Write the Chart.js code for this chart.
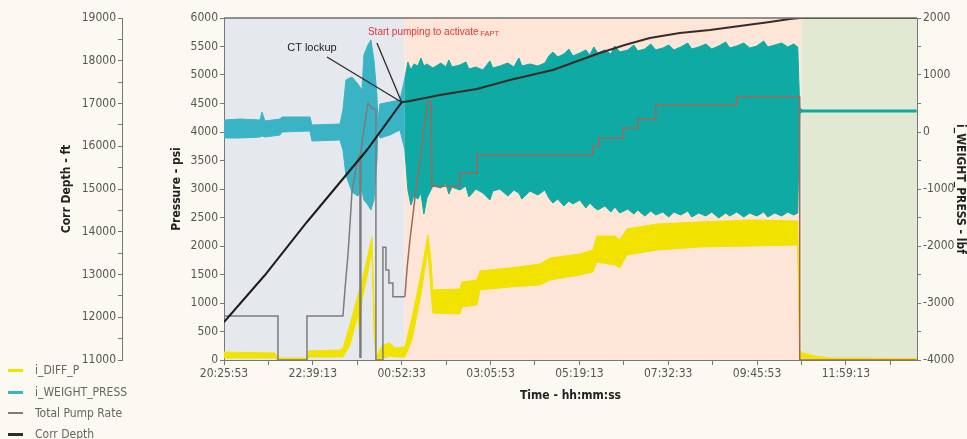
<!DOCTYPE html>
<html>
<head>
<meta charset="utf-8">
<script src="https://cdn.jsdelivr.net/npm/chart.js@4.4.1/dist/chart.umd.min.js"></script>
<style>
  html, body { margin:0; padding:0; background:#fcf8f2; }
  #wrap { position:relative; width:967px; height:439px; overflow:hidden; }
  #legend { position:absolute; left:0; top:0; width:200px; height:439px; pointer-events:none;
            font-family:'DejaVu Sans Condensed','DejaVu Sans',sans-serif; font-stretch:condensed; font-size:12px; color:#666; }
  .li { position:absolute; left:8px; height:16px; line-height:16px; white-space:nowrap; }
  .mk { position:absolute; left:0; width:15px; }
  .tx { position:absolute; left:27px; top:0; }
</style>
</head>
<body>
<div id="wrap">
  <canvas id="c" width="967" height="439"></canvas>
  <div id="legend"></div>
</div>
<script>
// ---------------- data ----------------
const startClock = 73553; // 20:25:53 in seconds of day
const xRange = [0, 62400];                       // elapsed seconds
const xTicks = [0,4000,8000,12000,16000,20000,24000,28000,32000,36000,40000,44000,48000,52000,56000,60000];
const xLabelStep = 8000;
const depthTicks  = [11000,11500,12000,12500,13000,13500,14000,14500,15000,15500,16000,16500,17000,17500,18000,18500,19000];
const pressTicks  = [0,500,1000,1500,2000,2500,3000,3500,4000,4500,5000,5500,6000];
const weightTicks = [-4000,-3500,-3000,-2500,-2000,-1500,-1000,-500,0,500,1000,1500,2000];

// operational stages (elapsed seconds)
const stageStart = [0, 16250, 52000];
const stageEnd   = [16250, 52000, 62400];
const stageColor = ['#e5e9ee', '#fde6d7', '#e2e9d3'];

// Corr Depth (ft)
const depthT  = [0, 3690, 7470, 12870, 16000, 16740, 19440, 22770, 25740, 28440, 29610, 31590, 33840, 36090, 38340, 41040, 43740, 46440, 49140, 50940, 51840, 62370];
const depthFt = [11889, 12988, 14228, 15912, 17030, 17058, 17199, 17339, 17550, 17713, 17784, 17971, 18181, 18368, 18532, 18649, 18719, 18813, 18906, 18977, 19000, 19000];

// Total Pump Rate
const pumpT = [0,4860,4860,7470,7470,10710,10890,11160,11340,11520,11790,12060,12240,12240,12330,12330,12600,12960,13320,13680,13680,14310,14310,14580,14580,14850,14850,15210,15210,16290,16470,16740,17010,17280,17640,18000,18360,18630,18720,21240,21240,22770,22770,33210,33210,33750,33750,35910,35910,37260,37260,38880,38880,46170,46170,51840,51840,62370];
const pumpRate = [0.77,0.77,0,0,0.77,0.77,1.23,1.84,2.37,2.95,3.25,3.54,3.60,0.05,0.05,3.68,4.04,4.51,4.42,4.39,0,0,1.98,1.98,1.58,1.58,1.35,1.35,1.11,1.11,1.58,2.11,2.54,2.98,3.46,4.04,4.53,4.53,3.05,3.05,3.28,3.28,3.60,3.60,3.75,3.75,3.89,3.89,4.07,4.07,4.23,4.23,4.47,4.47,4.61,4.61,0,0];

// i_WEIGHT_PRESS envelope (upper / lower)
const weightT = [0,1440,3240,3420,3690,5040,5220,7740,7920,10440,10710,10980,11520,12060,12420,12600,12960,13230,13500,13770,13860,14040,14940,15840,
  16290,16560,16830,17100,17460,17730,18000,18270,18810,19530,19980,20250,20520,21240,21780,22050,22680,23310,23940,24210,24840,25560,26100,26550,26820,27540,28260,28890,29250,29610,
  30060,30600,31050,31410,32040,32580,32940,33300,33660,34290,34830,35190,35640,36360,36900,37260,37890,38430,38880,39510,40050,40500,41130,41760,42120,42750,43380,43920,44550,45180,
  45540,46170,46800,47340,47970,48600,48960,49590,50220,50760,51300,51660,51840,52110,62370];
const weightHi = [210,228,210,351,193,228,263,263,123,140,386,912,965,842,737,1351,1526,1614,1263,649,210,491,526,561,
  947,1228,1088,1193,1158,1298,1158,1193,1123,1210,1140,1263,1140,1175,1228,1105,1140,1088,1246,1123,1158,1210,1140,1298,1158,1193,1158,1210,1333,1404,
  1316,1368,1456,1333,1386,1439,1351,1491,1386,1439,1368,1509,1404,1439,1526,1421,1456,1544,1439,1474,1526,1439,1491,1561,1456,1491,1544,1456,1509,1579,
  1474,1509,1561,1474,1509,1596,1491,1526,1561,1491,1544,1491,421,386,386];
const weightLo = [-105,-105,-88,-70,-88,-53,0,18,-158,-140,-316,-754,-1053,-1123,-1018,-1193,-1281,-1368,-1193,-491,35,-105,-53,35,
  -316,-1018,-1281,-1123,-1175,-1070,-1439,-1158,-947,-982,-912,-1088,-965,-1018,-947,-1140,-1000,-1070,-1193,-1035,-1000,-1123,-1018,-1070,-1175,-1035,-1105,-1018,-1158,-1246,
  -1175,-1298,-1210,-1263,-1193,-1333,-1246,-1316,-1368,-1298,-1404,-1316,-1421,-1351,-1439,-1368,-1474,-1386,-1456,-1404,-1491,-1404,-1456,-1386,-1491,-1421,-1474,-1404,-1509,-1421,
  -1474,-1404,-1491,-1421,-1474,-1404,-1491,-1421,-1474,-1404,-1456,-1421,333,351,351];

// i_DIFF_P envelope (psi)
const diffT  = [0,4590,4860,7470,7650,10440,10710,11340,12060,12240,12420,12960,13320,13500,13680,14310,14940,15390,16290,16920,17640,18360,18630,18810,21240,21420,22770,23040,25740,28440,29340,32040,33210,33570,35190,35640,36270,38970,42840,47340,51660,51840,52110,53190,54540,62370];
const diffHi = [140,123,35,35,158,175,211,614,1140,1263,1368,1842,2158,1053,53,263,298,211,228,737,1404,2193,1754,1228,1246,1368,1404,1561,1614,1684,1789,1860,1930,2175,2175,2105,2298,2386,2421,2456,2439,175,123,70,35,26];
const diffLo = [35,35,0,0,53,53,53,263,789,386,1053,1544,1895,526,0,35,70,53,53,351,1053,1930,1228,825,807,930,965,1228,1281,1316,1404,1491,1544,1719,1667,1614,1842,1930,1982,2000,2018,0,35,18,0,0];

// annotations (elapsed s, psi)
const noteCT    = { text:'CT lockup', t:7920, p:5474, lineT:9270, lineP:5316 };
const noteStart = { text:'Start pumping to activate', sub:'FAPT', t:12960, p:5754, lineT:13770, lineP:5561 };
const lockupT = 16000, lockupDepth = 17030;

// legend
const legendNames  = ['i_DIFF_P', 'i_WEIGHT_PRESS', 'Total Pump Rate', 'Corr Depth'];
const legendColors = ['#f2e200', '#3ab4c4', '#7c7c7c', '#2a2a2a'];
const legendThick  = [3, 3, 1.5, 3];
const legendTop    = [362, 384, 405, 426];

// ---------------- helpers ----------------
const pts = (xs, ys) => xs.map((x, i) => ({ x, y: ys[i] }));
const clock = v => {
  let s = Math.round((startClock + v) % 86400);
  const h = Math.floor(s / 3600); s -= h * 3600;
  const m = Math.floor(s / 60); s -= m * 60;
  return [h, m, s].map(n => String(n).padStart(2, '0')).join(':');
};
const setTicks = arr => s => { s.ticks = arr.map(v => ({ value: v })); };
Chart.defaults.font.family = "'DejaVu Sans Condensed','DejaVu Sans',sans-serif";
Chart.defaults.color = '#555';

const tealA = '#3ab4c4', tealB = '#0eaaa3';
const tealSeg = { borderColor: c => c.p0.parsed.x >= stageStart[1] ? tealB : tealA,
                  backgroundColor: c => c.p0.parsed.x >= stageStart[1] ? tealB : tealA };

const stagesPlugin = {
  id: 'stages',
  beforeDraw(chart) {
    const { ctx, chartArea: a, scales: { x } } = chart;
    ctx.save();
    ctx.fillStyle = '#fcf8f2';
    ctx.fillRect(0, 0, chart.width, chart.height);
    stageStart.forEach((s, i) => {
      const x0 = x.getPixelForValue(s), x1 = x.getPixelForValue(stageEnd[i]);
      ctx.fillStyle = stageColor[i];
      ctx.fillRect(x0, a.top, x1 - x0, a.bottom - a.top);
    });
    ctx.restore();
  }
};

const notesPlugin = {
  id: 'notes',
  afterDatasetsDraw(chart) {
    const { ctx, chartArea: a, scales: { x, y, yD } } = chart;
    ctx.save();
    ctx.strokeStyle = '#6e6e6e'; ctx.lineWidth = 1.5;
    ctx.beginPath(); ctx.moveTo(a.left, a.top); ctx.lineTo(a.right, a.top); ctx.stroke();
    const ax = x.getPixelForValue(lockupT), ay = yD.getPixelForValue(lockupDepth);
    ctx.strokeStyle = '#2a2a2a'; ctx.lineWidth = 1.3;
    [noteCT, noteStart].forEach(n => {
      ctx.beginPath();
      ctx.moveTo(x.getPixelForValue(n.lineT), y.getPixelForValue(n.lineP));
      ctx.lineTo(ax, ay); ctx.stroke();
    });
    ctx.textBaseline = 'middle';
    ctx.font = "11px 'Liberation Sans', Arial, sans-serif";
    ctx.fillStyle = '#222'; ctx.textAlign = 'center';
    ctx.fillText(noteCT.text, x.getPixelForValue(noteCT.t), y.getPixelForValue(noteCT.p));
    ctx.font = "10px 'Liberation Sans', Arial, sans-serif";
    ctx.fillStyle = '#e8323a'; ctx.textAlign = 'left';
    const sx = x.getPixelForValue(noteStart.t), sy = y.getPixelForValue(noteStart.p);
    ctx.fillText(noteStart.text, sx, sy);
    const w = ctx.measureText(noteStart.text + ' ').width;
    ctx.font = "7.5px 'Liberation Sans', Arial, sans-serif";
    ctx.fillText(noteStart.sub, sx + w - 1, sy + 1.5);
    ctx.restore();
  }
};

const tickFont = { size: 12, style: 'condensed' };
const titleFont = { size: 12, weight: 'bold', style: 'condensed' };
const axisGrid = { drawOnChartArea: false, tickLength: 4, color: '#777', tickColor: '#777' };
const axisBorder = { color: '#777', width: 1 };

new Chart(document.getElementById('c'), {
  type: 'line',
  data: {
    datasets: [
      { label: 'Corr Depth', data: pts(depthT, depthFt), yAxisID: 'yD', borderColor: '#1c1c1c', borderWidth: 2,
        segment: { borderColor: c => c.p0.parsed.x >= lockupT ? '#3b2b27' : undefined } },
      { label: 'Total Pump Rate', data: pts(pumpT, pumpRate), yAxisID: 'yR', borderColor: '#7c7c7c', borderWidth: 1.5,
        segment: { borderColor: c => c.p0.parsed.x >= stageStart[1] ? '#a0675a' : undefined } },
      { label: 'i_WEIGHT_PRESS', data: pts(weightT, weightHi), yAxisID: 'yW', borderColor: tealA, backgroundColor: tealA,
        borderWidth: 1, fill: '+1', segment: tealSeg },
      { label: 'i_WEIGHT_PRESS lo', data: pts(weightT, weightLo), yAxisID: 'yW', borderColor: tealA, borderWidth: 1,
        fill: false, segment: tealSeg },
      { label: 'i_DIFF_P', data: pts(diffT, diffHi), yAxisID: 'y', borderColor: '#f2e200', backgroundColor: '#f2e200',
        borderWidth: 1, fill: '+1' },
      { label: 'i_DIFF_P lo', data: pts(diffT, diffLo), yAxisID: 'y', borderColor: '#f2e200', borderWidth: 1, fill: false }
    ]
  },
  options: {
    responsive: false,
    animation: false,
    layout: { padding: { top: 18, left: 0, right: 0, bottom: 0 } },
    elements: { point: { radius: 0 }, line: { tension: 0 } },
    plugins: { legend: { display: false }, tooltip: { enabled: false } },
    scales: {
      x: {
        type: 'linear', min: xRange[0], max: xRange[1],
        afterBuildTicks: setTicks(xTicks),
        ticks: { autoSkip: false, maxRotation: 0, padding: 2, font: tickFont,
                 callback: v => (v % xLabelStep === 0 ? clock(v) : '') },
        grid: { ...axisGrid, tickLength: 5 }, border: axisBorder,
        title: { display: true, text: 'Time - hh:mm:ss', font: titleFont, color: '#222', padding: { top: 0, bottom: 36 } },
        afterFit: s => { s.height = 79; }
      },
      y: {
        position: 'left', weight: 0, min: pressTicks[0], max: pressTicks[pressTicks.length - 1],
        afterBuildTicks: setTicks(pressTicks),
        ticks: { autoSkip: false, padding: 2, font: tickFont, callback: v => String(v) },
        grid: axisGrid, border: axisBorder,
        title: { display: true, text: 'Pressure - psi', font: titleFont, color: '#222', padding: { top: 48, bottom: 0 } },
        afterFit: s => { s.width = 102; }
      },
      yD: {
        position: 'left', weight: 1, min: depthTicks[0], max: depthTicks[depthTicks.length - 1],
        afterBuildTicks: setTicks(depthTicks),
        ticks: { autoSkip: false, padding: 2, font: tickFont, callback: v => (v % 1000 === 0 ? String(v) : '') },
        grid: axisGrid, border: axisBorder,
        title: { display: true, text: 'Corr Depth - ft', font: titleFont, color: '#222', padding: { top: 60, bottom: 0 } },
        afterFit: s => { s.width = 122; }
      },
      yW: {
        position: 'right', min: weightTicks[0], max: weightTicks[weightTicks.length - 1],
        afterBuildTicks: setTicks(weightTicks),
        ticks: { autoSkip: false, padding: 2, font: tickFont, callback: v => (v % 1000 === 0 ? String(v) : '') },
        grid: axisGrid, border: axisBorder,
        title: { display: true, text: 'i_WEIGHT_PRESS - lbf', font: titleFont, color: '#222', padding: { top: 0, bottom: 0 } },
        afterFit: s => { s.width = 50; }
      },
      yR: { display: false, min: 0, max: 6 }
    }
  },
  plugins: [stagesPlugin, notesPlugin]
});

// HTML legend
const lg = document.getElementById('legend');
legendNames.forEach((n, i) => {
  const d = document.createElement('div');
  d.className = 'li'; d.style.top = legendTop[i] + 'px';
  const m = document.createElement('div');
  m.className = 'mk'; m.style.background = legendColors[i];
  m.style.height = legendThick[i] + 'px'; m.style.top = (8 - legendThick[i] / 2) + 'px';
  const t = document.createElement('span'); t.className = 'tx'; t.textContent = n;
  d.appendChild(m); d.appendChild(t); lg.appendChild(d);
});
</script>
</body>
</html>
